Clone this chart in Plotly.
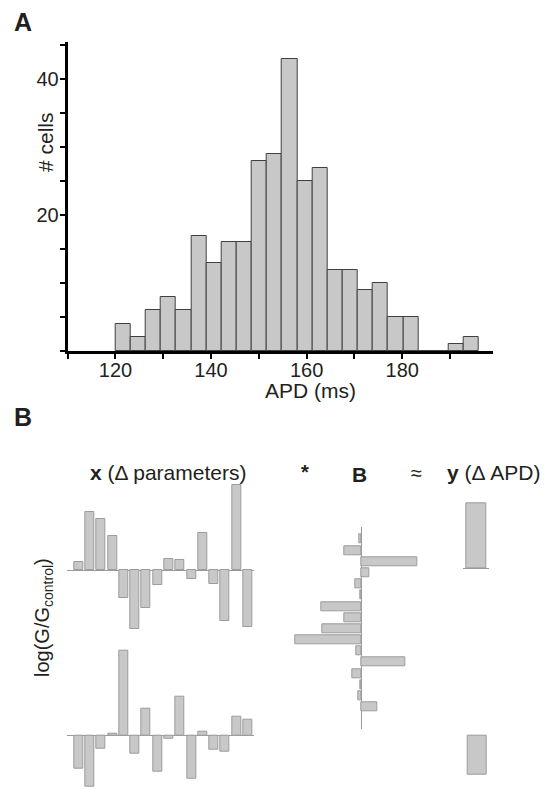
import plotly.graph_objects as go

# ---- data ----
# panel A: APD histogram, bins start at 120 ms
bin_start = 120.0
bin_width = 3.17
cell_counts = [4, 2, 6, 8, 6, 17, 13, 16, 16, 28, 29, 43, 25, 27,
               12, 12, 9, 10, 5, 5, 0, 0, 1, 2]

apd_ticks = [120, 140, 160, 180]
cell_ticks = [20, 40]

# panel B: two example parameter vectors, regression weights, APD changes
param_idx = list(range(16))
x_row1 = [7.7, 58.3, 50.7, 34, -28.3, -59.3, -38.3, -15, 11, 10, -9.3, 36.7, -14.3, -51, 85, -57.3]
x_row2 = [-33, -50.6, -12.7, 2.3, 84.7, -17.7, 27.3, -36.3, -3, 39.3, -42.7, 4.3, -13.7, -16.3, 18.7, 16.3]
b_weights = [-2, -17.3, 55.7, 7.7, -6.3, -1.3, -39.7, -17.3, -39, -66, -5.3, 44, -9.3, -1.3, -3.3, 16]
y_apd = [65, -38.7]

# the page body has an 8px margin, so the figure sits 8px in from the corner
OFF = 8
W, H = 554 - OFF, 789 - OFF
FONT = "Liberation Sans, Arial, sans-serif"
FILL = "#c8c8c8"


def xd(a, b):
    return [(a - OFF) / W, (b - OFF) / W]


def yd(top, bottom):
    return [1 - (bottom - OFF) / H, 1 - (top - OFF) / H]


bin_centers = [bin_start + (i + 0.5) * bin_width for i in range(len(cell_counts))]

fig = go.Figure()

# panel A histogram
fig.add_trace(go.Bar(x=bin_centers, y=cell_counts, width=bin_width,
                     marker=dict(color=FILL, line=dict(color="#404040", width=1)),
                     xaxis="x", yaxis="y"))

bar_style = dict(color=FILL, line=dict(color="#9c9c9c", width=1))

fig.add_trace(go.Bar(x=param_idx, y=x_row1, width=0.8, marker=bar_style,
                     xaxis="x2", yaxis="y2"))
fig.add_trace(go.Bar(x=param_idx, y=x_row2, width=0.8, marker=bar_style,
                     xaxis="x3", yaxis="y3"))
fig.add_trace(go.Bar(x=b_weights, y=param_idx, orientation="h", width=0.8,
                     marker=bar_style, xaxis="x4", yaxis="y4"))
fig.add_trace(go.Bar(x=[0], y=[y_apd[0]], width=0.77, marker=bar_style,
                     xaxis="x5", yaxis="y5"))
fig.add_trace(go.Bar(x=[0], y=[y_apd[1]], width=0.776, marker=bar_style,
                     xaxis="x6", yaxis="y6"))

hidden = dict(showgrid=False, showline=False, showticklabels=False,
              ticks="", zeroline=False, fixedrange=True)
zl = dict(zeroline=True, zerolinecolor="#9a9a9a", zerolinewidth=1)

fig.update_layout(
    width=W, height=H,
    margin=dict(l=0, r=0, t=0, b=0),
    paper_bgcolor="white", plot_bgcolor="white",
    showlegend=False, bargap=0,
    font=dict(family=FONT, size=20, color="#231f20"),
    xaxis=dict(domain=xd(67.7, 493), range=[110, 199], anchor="y",
               showline=True, linewidth=3, linecolor="black",
               ticks="outside", ticklen=5, tickwidth=2, tickcolor="black",
               tickvals=apd_ticks, tickfont=dict(size=20), ticklabelstandoff=-6,
               minor=dict(tick0=110, dtick=10, ticks="outside", ticklen=5,
                          tickwidth=2, tickcolor="black", showgrid=False),
               showgrid=False, zeroline=False),
    yaxis=dict(domain=yd(42, 351), range=[0, 45.5], anchor="x",
               showline=True, linewidth=3, linecolor="black",
               ticks="outside", ticklen=5, tickwidth=2, tickcolor="black",
               tickvals=cell_ticks, tickfont=dict(size=20), ticklabelstandoff=-3,
               minor=dict(tick0=0, dtick=5, ticks="outside", ticklen=5,
                          tickwidth=2, tickcolor="black", showgrid=False),
               showgrid=False, zeroline=False),
    xaxis2=dict(domain=xd(67.3, 254), range=[-1.0, 15.55], anchor="y2", **hidden),
    yaxis2=dict(domain=yd(480, 640), range=[-70, 90], anchor="x2",
                **{**hidden, **zl}),
    xaxis3=dict(domain=xd(67.3, 254), range=[-1.0, 15.55], anchor="y3", **hidden),
    yaxis3=dict(domain=yd(645.7, 789), range=[-53.3, 90], anchor="x3",
                **{**hidden, **zl}),
    xaxis4=dict(domain=xd(291.3, 421.3), range=[-70, 60], anchor="y4",
                **{**hidden, **zl}),
    yaxis4=dict(domain=yd(527.3, 729.3), range=[17.0, -1.07], anchor="x4", **hidden),
    xaxis5=dict(domain=xd(463.3, 489), range=[-0.5, 0.5], anchor="y5", **hidden),
    yaxis5=dict(domain=yd(498.3, 570.3), range=[-2, 70], anchor="x5",
                **{**hidden, **zl}),
    xaxis6=dict(domain=xd(464.7, 489.7), range=[-0.5, 0.5], anchor="y6", **hidden),
    yaxis6=dict(domain=yd(733.7, 775.7), range=[-40, 2], anchor="x6", **hidden),
)


def label(text, x, y, size=20, angle=0):
    fig.add_annotation(text=text, x=(x - OFF) / W, y=1 - (y - OFF) / H,
                       xref="paper", yref="paper",
                       showarrow=False, textangle=angle,
                       xanchor="center", yanchor="middle",
                       font=dict(size=size, family=FONT, color="#231f20"))


label("<b>A</b>", 23, 22, size=25)
label("<b>B</b>", 23, 417, size=25)
label("APD (ms)", 310, 391, size=21)
label("# cells", 45, 142, size=21, angle=-90)
label("<b>x</b> (Δ parameters)", 168, 472, size=21)
label("<b>*</b>", 305, 472, size=20)
label("<b>B</b>", 359, 474, size=21)
label("≈", 416, 473, size=20)
label("<b>y</b> (Δ APD)", 494, 472, size=21)
label("log(G/G<sub>control</sub>)", 43, 618, size=20, angle=-90)

fig.write_html("out.html")
